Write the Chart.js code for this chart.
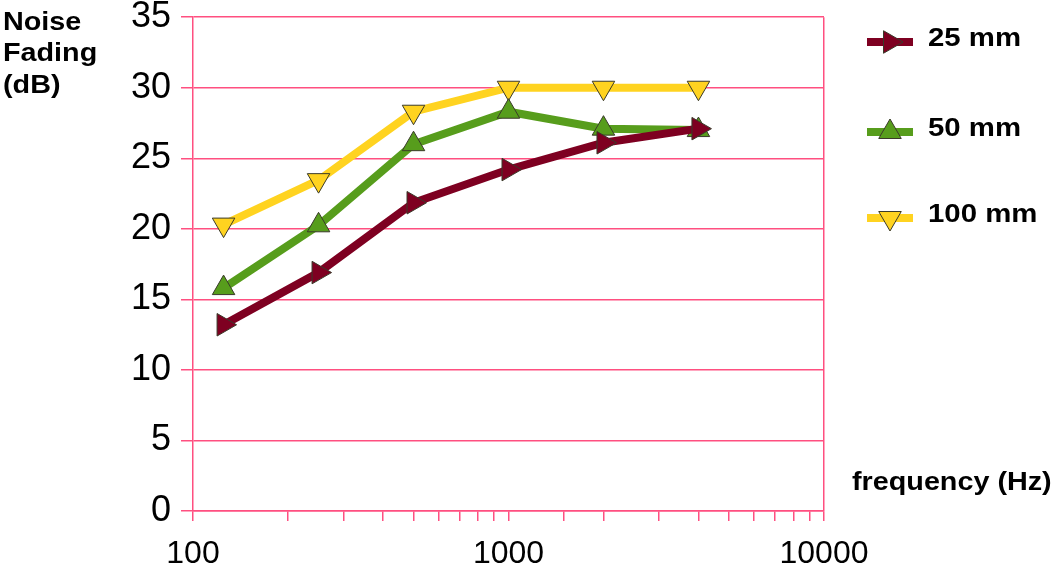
<!DOCTYPE html>
<html>
<head>
<meta charset="utf-8">
<script src="https://cdn.jsdelivr.net/npm/chart.js@4/dist/chart.umd.min.js"></script>
<style>
  html, body { margin: 0; padding: 0; background: #fff; }
  #wrap { width: 1055px; height: 571px; position: relative; }
</style>
</head>
<body>
<div id="wrap"><canvas id="noiseChart"></canvas></div>
<script>
// frequencies (Hz) and noise fading values (dB)
const frequencies = [125, 250, 500, 1000, 2000, 4000];
const fading25 = [13.2, 16.9, 21.85, 24.2, 26.1, 27.1];
const fading50 = [15.8, 20.25, 26.0, 28.3, 27.1, 27.0];
const fading100 = [20.3, 23.45, 28.3, 30.0, 30.0, 30.0];
const seriesNames = ['25 mm', '50 mm', '100 mm'];
const xLabelTicks = [100, 1000, 10000];

const pink = '#ff4f80';
const FONT = '"Liberation Sans", Arial, sans-serif';

function toPoints(vals) {
    return frequencies.map((f, i) => ({ x: f, y: vals[i] }));
}

// text with a bit of horizontal stretch, like the source image
function wideText(ctx, text, x, y, font, sx) {
    ctx.save();
    ctx.translate(x, y);
    ctx.scale(sx, 1);
    ctx.font = font;
    ctx.fillStyle = '#000';
    ctx.textAlign = 'left';
    ctx.textBaseline = 'middle';
    ctx.fillText(text, 0, 0);
    ctx.restore();
}

const extrasPlugin = {
    id: 'extras',
    afterDraw(chart) {
        const ctx = chart.ctx;
        const boldFont = 'bold 25px ' + FONT;
        // y axis title
        wideText(ctx, 'Noise', 3, 23, boldFont, 1.15);
        wideText(ctx, 'Fading', 3, 54, boldFont, 1.15);
        wideText(ctx, '(dB)', 3, 86, boldFont, 1.15);
        // x axis title
        wideText(ctx, 'frequency (Hz)', 852, 483, boldFont, 1.15);

        // legend
        const rows = [42, 132, 218];
        chart.data.datasets.forEach((ds, i) => {
            const y = rows[i];
            ctx.save();
            ctx.strokeStyle = ds.borderColor;
            ctx.lineWidth = 8;
            ctx.beginPath();
            ctx.moveTo(867, y);
            ctx.lineTo(913, y);
            ctx.stroke();
            ctx.fillStyle = ds.pointBackgroundColor;
            ctx.strokeStyle = ds.pointBorderColor;
            ctx.lineWidth = 1;
            Chart.helpers.drawPoint(ctx, {
                pointStyle: 'triangle',
                rotation: ds.pointRotation,
                radius: 13,
                borderWidth: 1
            }, 890, y);
            ctx.restore();
            wideText(ctx, ds.label, 928, y - 3, 'bold 26px ' + FONT, 1.13);
        });
    }
};

function makeSet(label, vals, color, rot) {
    return {
        label: label,
        data: toPoints(vals),
        borderColor: color,
        backgroundColor: color,
        borderWidth: 8,
        pointStyle: 'triangle',
        pointRotation: rot,
        pointRadius: 13,
        pointHoverRadius: 13,
        pointBackgroundColor: color,
        pointBorderColor: '#3a3a2a',
        pointBorderWidth: 1,
        tension: 0
    };
}

const ctx = document.getElementById('noiseChart').getContext('2d');
new Chart(ctx, {
    type: 'line',
    data: {
        datasets: [
            makeSet(seriesNames[0], fading25, '#7e0021', 90),
            makeSet(seriesNames[1], fading50, '#579d1c', 0),
            makeSet(seriesNames[2], fading100, '#ffd320', 180)
        ]
    },
    options: {
        responsive: true,
        maintainAspectRatio: false,
        animation: false,
        layout: { padding: { left: 0, top: 0, right: 231, bottom: 0 } },
        plugins: {
            legend: { display: false },
            tooltip: { enabled: false }
        },
        scales: {
            x: {
                type: 'logarithmic',
                min: 100,
                max: 10000,
                afterFit: s => { s.height = 60; },
                border: { display: true, color: pink, width: 1.5 },
                grid: {
                    drawOnChartArea: true,
                    color: c => (c.tick && c.tick.value === 10000) ? pink : 'rgba(0,0,0,0)',
                    tickColor: pink,
                    tickLength: 10,
                    lineWidth: 1.5
                },
                ticks: {
                    autoSkip: false,
                    maxRotation: 0,
                    padding: 14,
                    color: '#000',
                    font: { family: FONT, size: 32 },
                    callback: v => xLabelTicks.includes(v) ? String(v) : ''
                }
            },
            y: {
                min: 0,
                max: 35,
                afterFit: s => { s.width = 193; },
                border: { display: true, color: pink, width: 1.5 },
                grid: {
                    color: pink,
                    tickColor: pink,
                    tickLength: 12,
                    lineWidth: 1.5
                },
                ticks: {
                    stepSize: 5,
                    padding: 10,
                    color: '#000',
                    font: { family: FONT, size: 36, lineHeight: 0.4 }
                }
            }
        }
    },
    plugins: [extrasPlugin]
});
</script>
</body>
</html>
